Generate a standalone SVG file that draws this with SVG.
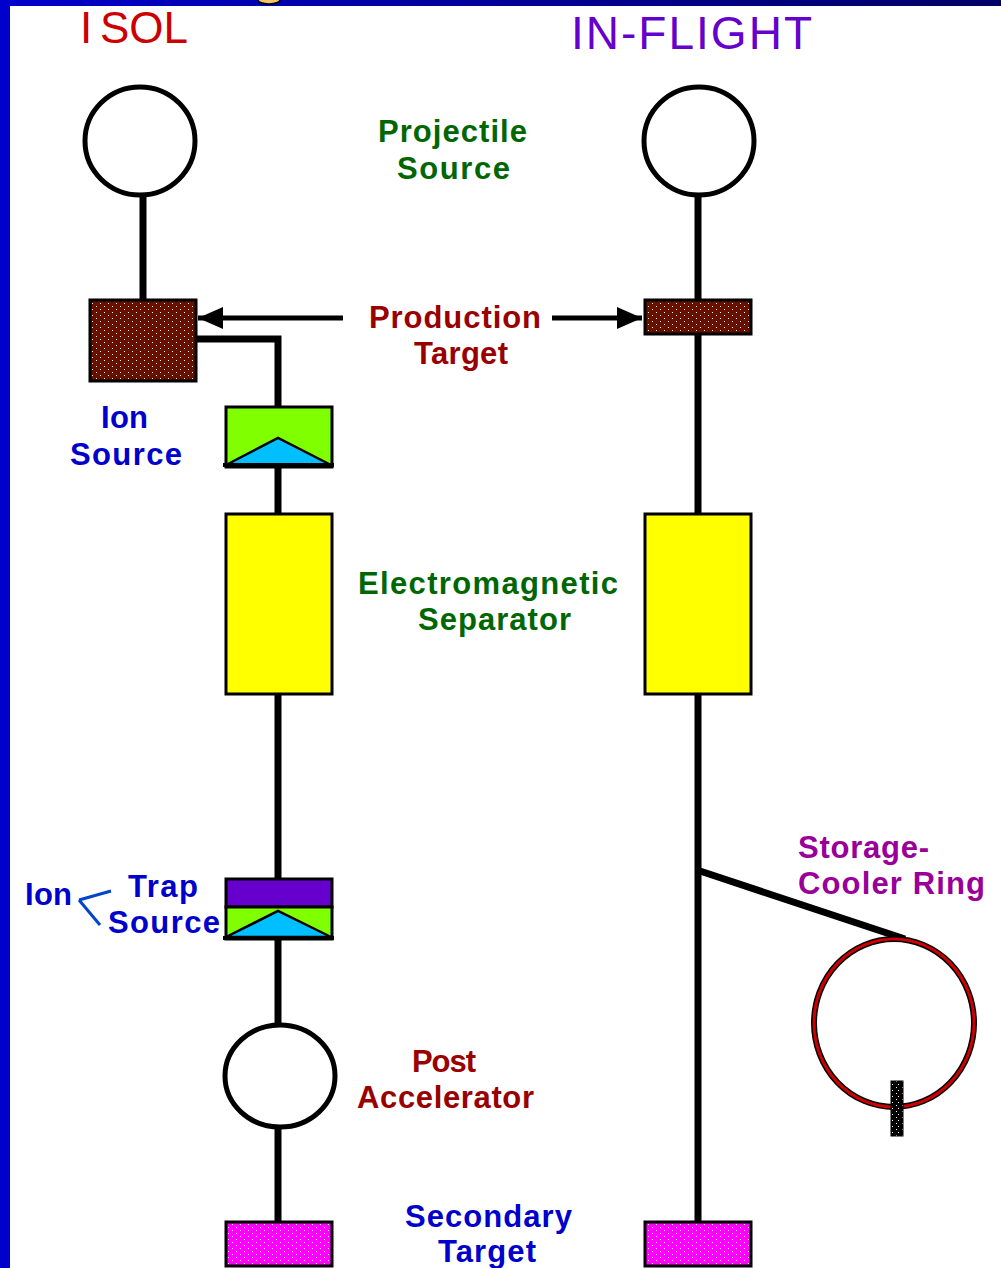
<svg xmlns="http://www.w3.org/2000/svg" width="1001" height="1268" viewBox="0 0 1001 1268">
<defs>
<linearGradient id="topband" x1="0" y1="0" x2="1" y2="0">
<stop offset="0" stop-color="#0000cc"/>
<stop offset="1" stop-color="#000066"/>
</linearGradient>
<pattern id="brownDots" width="8" height="6" patternUnits="userSpaceOnUse">
<rect width="8" height="6" fill="#661100"/>
<rect x="0" y="0" width="1" height="1" fill="#fff"/>
<rect x="4" y="3" width="1" height="1" fill="#fff"/>
</pattern>
<pattern id="pinkDots" width="8" height="6" patternUnits="userSpaceOnUse">
<rect width="8" height="6" fill="#ff00ff"/>
<rect x="0" y="0" width="1" height="1" fill="#fff"/>
<rect x="4" y="3" width="1" height="1" fill="#fff"/>
</pattern>
<pattern id="blackDots" width="6" height="6" patternUnits="userSpaceOnUse">
<rect width="6" height="6" fill="#000"/>
<rect x="2" y="1" width="1" height="1" fill="#fff"/>
<rect x="4" y="4" width="1" height="1" fill="#fff"/>
</pattern>
<marker id="arrow" markerUnits="userSpaceOnUse" markerWidth="26" markerHeight="22" refX="25" refY="11" orient="auto">
<path d="M0,0 L25,11 L0,22 Z" fill="#000"/>
</marker>
<style>
.lbl{font-family:"Liberation Sans",Arial,sans-serif;font-weight:bold;font-size:31px}
.green{fill:#006600}
.dred{fill:#990000}
.blue{fill:#0000cc}
.purp{fill:#990099}
.wire{stroke:#000;stroke-width:7;fill:none}
.box{stroke:#000;stroke-width:3}
.ring{fill:#fff;stroke:#000;stroke-width:5}
</style>
</defs>
<rect x="0" y="0" width="1001" height="1268" fill="#fff"/>
<rect x="0" y="0" width="1001" height="6" fill="url(#topband)"/>
<rect x="0" y="0" width="10" height="1268" fill="#0000cc"/>
<ellipse cx="269" cy="0" rx="11" ry="4" fill="#f2c46a" stroke="#000" stroke-width="1.5"/>

<g id="titles">
<text x="80" y="43" font-family="Liberation Sans, Arial, sans-serif" font-size="44" fill="#cc0000">I<tspan x="100">SOL</tspan></text>
<text x="571" y="49" font-family="Liberation Sans, Arial, sans-serif" font-size="46" fill="#6600cc" textLength="241" lengthAdjust="spacing">IN-FLIGHT</text>
</g>

<g id="connectors">
<line class="wire" x1="143" y1="196" x2="143" y2="300"/>
<polyline class="wire" stroke-width="6" points="196,339 278,339 278,407"/>
<line class="wire" x1="278" y1="467" x2="278" y2="514"/>
<line class="wire" x1="278" y1="694" x2="278" y2="879"/>
<line class="wire" x1="278" y1="940" x2="278" y2="1024"/>
<line class="wire" x1="278" y1="1128" x2="278" y2="1222"/>
<line class="wire" x1="698" y1="196" x2="698" y2="300"/>
<line class="wire" x1="698" y1="334" x2="698" y2="514"/>
<line class="wire" x1="698" y1="694" x2="698" y2="1222"/>
<line class="wire" stroke-width="6" x1="700" y1="871" x2="905" y2="939"/>
<line stroke="#000" stroke-width="5" x1="343" y1="318" x2="198" y2="318" marker-end="url(#arrow)"/>
<line stroke="#000" stroke-width="5" x1="552" y1="318" x2="642" y2="318" marker-end="url(#arrow)"/>
<line stroke="#0044cc" stroke-width="3" x1="79" y1="900" x2="111" y2="891"/>
<line stroke="#0044cc" stroke-width="3" x1="79" y1="900" x2="100" y2="925"/>
</g>

<g id="isol-projectile-source"><ellipse class="ring" cx="140" cy="141" rx="55" ry="54"/></g>
<g id="isol-production-target"><rect class="box" x="90" y="300" width="106" height="81" fill="url(#brownDots)"/></g>
<g id="isol-ion-source">
<rect class="box" x="226" y="407" width="106" height="60" fill="#80ff00"/>
<polygon points="226,465 278,438 331,465" fill="#00bfff" stroke="#000" stroke-width="2.5"/>
<line x1="223" y1="465" x2="334" y2="465" stroke="#000" stroke-width="4"/>
</g>
<g id="isol-separator"><rect class="box" x="226" y="514" width="106" height="180" fill="#ffff00"/></g>
<g id="isol-trap-source">
<rect class="box" x="226" y="879" width="106" height="28" fill="#6600cc"/>
<rect class="box" x="226" y="907" width="106" height="32" fill="#80ff00"/>
<polygon points="226,937 278,911 331,937" fill="#00bfff" stroke="#000" stroke-width="2.5"/>
<line x1="223" y1="938" x2="334" y2="938" stroke="#000" stroke-width="4"/>
</g>
<g id="isol-post-accelerator"><ellipse class="ring" cx="280" cy="1076" rx="55" ry="51"/></g>
<g id="isol-secondary-target"><rect class="box" x="226" y="1222" width="106" height="44" fill="url(#pinkDots)"/></g>

<g id="flight-projectile-source"><ellipse class="ring" cx="699" cy="141" rx="55" ry="54"/></g>
<g id="flight-production-target"><rect class="box" x="645" y="300" width="106" height="34" fill="url(#brownDots)"/></g>
<g id="flight-separator"><rect class="box" x="645" y="514" width="106" height="180" fill="#ffff00"/></g>
<g id="flight-storage-ring">
<ellipse cx="894" cy="1023" rx="80" ry="84" fill="none" stroke="#000" stroke-width="6"/>
<ellipse cx="894" cy="1023" rx="80" ry="84" fill="none" stroke="#cc0000" stroke-width="3"/>
<rect x="891" y="1081" width="12" height="55" fill="url(#blackDots)" stroke="#000" stroke-width="1"/>
</g>
<g id="flight-secondary-target"><rect class="box" x="645" y="1222" width="106" height="44" fill="url(#pinkDots)"/></g>

<g id="labels">
<text class="lbl green" x="378" y="142" textLength="149" lengthAdjust="spacing">Projectile</text>
<text class="lbl green" x="397" y="179" textLength="113" lengthAdjust="spacing">Source</text>
<text class="lbl dred" x="369" y="328" textLength="172" lengthAdjust="spacing">Production</text>
<text class="lbl dred" x="414" y="364" textLength="94" lengthAdjust="spacing">Target</text>
<text class="lbl blue" x="101" y="428" textLength="47" lengthAdjust="spacing">Ion</text>
<text class="lbl blue" x="70" y="465" textLength="112" lengthAdjust="spacing">Source</text>
<text class="lbl green" x="358" y="594" textLength="260" lengthAdjust="spacing">Electromagnetic</text>
<text class="lbl green" x="418" y="630" textLength="153" lengthAdjust="spacing">Separator</text>
<text class="lbl purp" x="798" y="858" textLength="131" lengthAdjust="spacing">Storage-</text>
<text class="lbl purp" x="798" y="894" textLength="187" lengthAdjust="spacing">Cooler Ring</text>
<text class="lbl blue" x="25" y="905" textLength="47" lengthAdjust="spacing">Ion</text>
<text class="lbl blue" x="128" y="897" textLength="70" lengthAdjust="spacing">Trap</text>
<text class="lbl blue" x="108" y="933" textLength="112" lengthAdjust="spacing">Source</text>
<text class="lbl dred" x="412" y="1072" textLength="64" lengthAdjust="spacing">Post</text>
<text class="lbl dred" x="357" y="1108" textLength="177" lengthAdjust="spacing">Accelerator</text>
<text class="lbl blue" x="405" y="1227" textLength="167" lengthAdjust="spacing">Secondary</text>
<text class="lbl blue" x="438" y="1262" textLength="98" lengthAdjust="spacing">Target</text>
</g>
</svg>
